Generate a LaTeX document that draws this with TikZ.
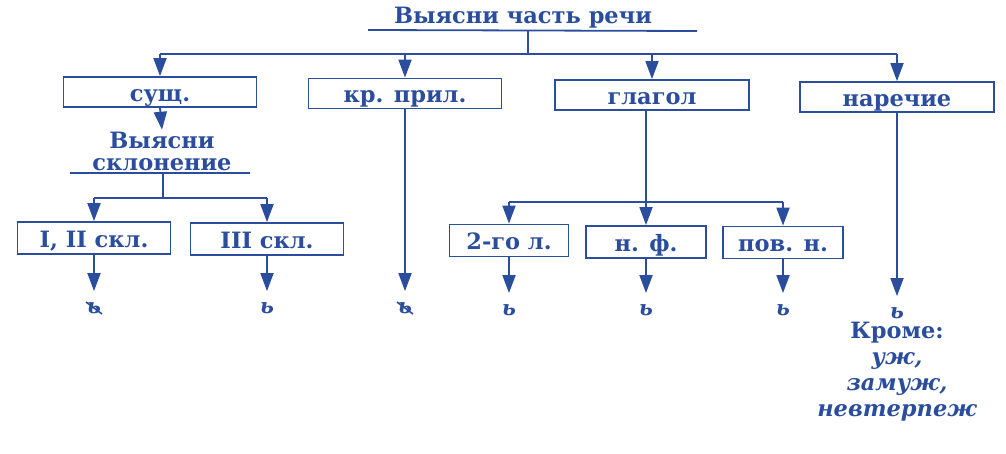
\documentclass[tikz,border=0pt]{standalone}
\usepackage{fontspec}
\setmainfont{DejaVu Serif}
\usetikzlibrary{arrows.meta}
\definecolor{ink}{HTML}{2A4D9E}

\begin{document}
\begin{tikzpicture}[x=1pt,y=-1pt,color=ink,line width=1.8pt,>={Triangle[length=18pt,width=13pt]}]
                \useasboundingbox (0,0) rectangle (1006,453);
                \tikzstyle{box}=[draw,rectangle,minimum height=30pt,inner sep=0pt,line width=1.8pt,text height=18pt,text depth=0pt,font=\bfseries\fontsize{22.5}{26}\selectfont]
                \tikzstyle{head}=[font=\bfseries\fontsize{22.5}{22}\selectfont,align=center,inner sep=1pt]
                \tikzstyle{soft}=[font=\bfseries\itshape\fontsize{21}{21}\selectfont,inner sep=0pt,minimum height=32pt]

                \node[head] (T) at (523,18) {Выясни часть речи};
                \coordinate (T-a) at (368,30);
                \coordinate (T-b) at (697,31);
                \coordinate (T-c) at (528,30.5);
                \coordinate (T-d) at (528,54);
                \draw (T-a) -- (T-b);
                \draw (T-c) -- (T-d);

                \foreach \name/\x/\y/\w/\txt in {S/160/92/193/сущ., K/405/93.5/193/кр. прил., G/652/95/194/глагол, N/897/97/194/наречие}
                        \node[box,minimum width=\w pt] (V-\name) at (\x,\y) {\txt};

                    \draw (V-S.north |- T-d) -- (V-N.north |- T-d);
                    \foreach \name in {S, K, G, N}
                        \draw[->] (V-\name.north |- T-d) -- (V-\name.north);

                \node[head] (Q) at (162,151) {Выясни\\склонение};
                \draw[->] (V-S.south) -- (Q.north);
                \coordinate (Q-a) at (70,173);
                \coordinate (Q-b) at (250,173);
                \coordinate (Q-c) at (163,173);
                \coordinate (Q-d) at (163,198);
                \draw (Q-a) -- (Q-b);
                \draw (Q-c) -- (Q-d);
                \coordinate (G-d) at (646,202);

                \foreach \name/\x/\y/\w/\txt in {1/94/238/153/{I, II скл.}, 2/267/239/153/III скл., 3/509/240.5/119/2-го л., 4/646/242/120/н. ф., 5/783/242.5/120/пов. н.}
                        \node[box,minimum width=\w pt,minimum height=32pt] (B-\name) at (\x,\y) {\txt};

                    \draw (B-1.north |- Q-d) -- (B-2.north |- Q-d);
                    \draw (V-G.south -| G-d) -- (G-d);
                    \draw (B-3.north |- G-d) -- (B-5.north |- G-d);
                    \foreach \name in {1, 2}
                        \draw[->] (B-\name.north |- Q-d) -- (B-\name.north);
                    \foreach \name in {3, 4, 5}
                        \draw[->] (B-\name.north |- G-d) -- (B-\name.north);

                \foreach \name/\x/\y in {1/94/308, 2/267/308, 3/509/310, 4/646/310, 5/783/310}
                        \node[soft] (L-\name) at (\x,\y) {ь};
                \node[soft] (L-K) at (405,308) {ь};
                \node[soft] (L-N) at (897,313) {ь};

                    \foreach \name in {1, 2, 3, 4, 5}
                        \draw[->] (B-\name.south) -- (L-\name.north);
                    \draw[->] (V-K.south) -- (L-K.north);
                    \draw[->] (V-N.south) -- (L-N.north);

                    % crossed out soft signs
                    \foreach \name in {1, K}
                        \draw[line width=1.6pt] ([shift={(-8,-6)}]L-\name.center) -- ([shift={(8,6)}]L-\name.center);

                \node[head] (E) at (897,333) {Кроме:};
                \node[font=\bfseries\itshape\fontsize{22.5}{26}\selectfont,align=center,anchor=north] (E-w) at (897,348) {уж,\\замуж,\\невтерпеж};

            \end{tikzpicture}
\end{document}
